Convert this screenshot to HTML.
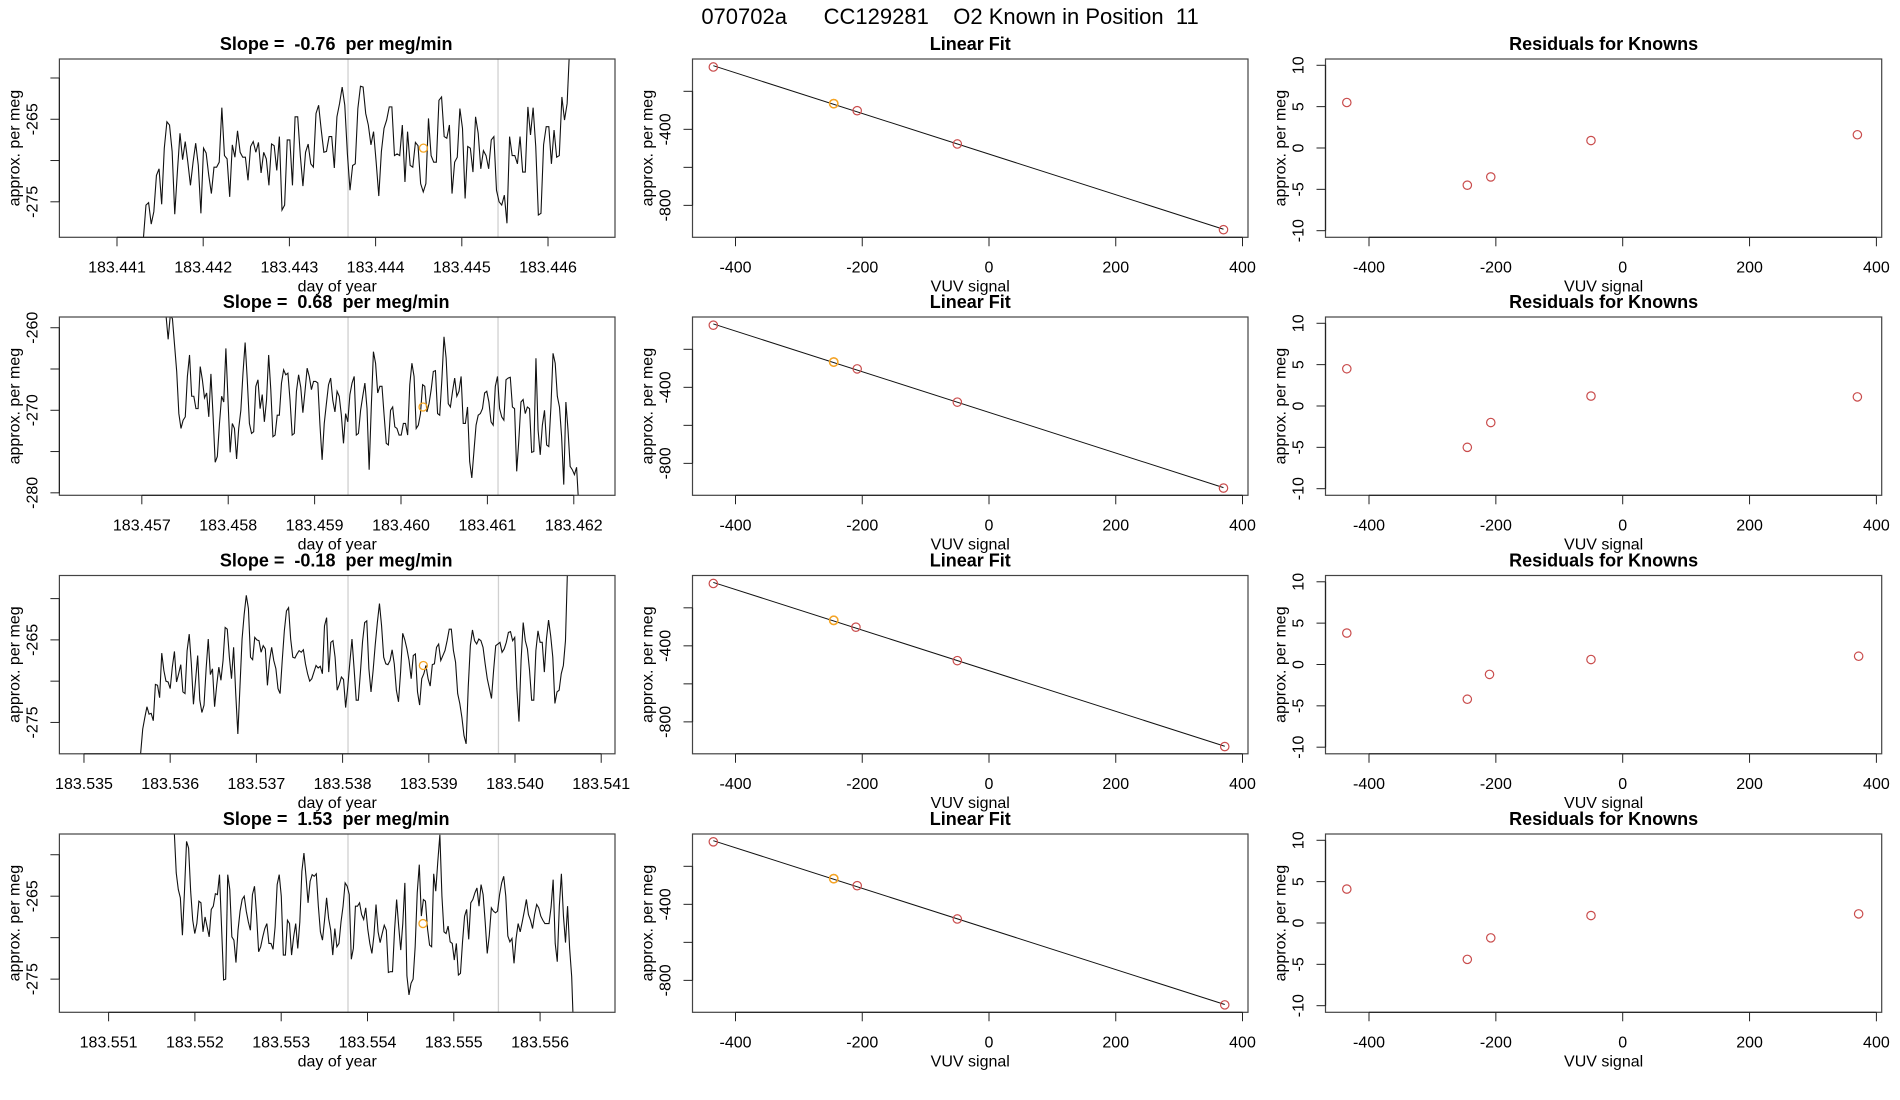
<!DOCTYPE html>
<html><head><meta charset="utf-8">
<style>
html,body{margin:0;padding:0;background:#fff;}
svg{display:block;font-family:"Liberation Sans",Arial,sans-serif;}
text{white-space:pre;}
</style></head>
<body>
<svg id="chart" width="1900" height="1100" viewBox="0 0 1900 1100" xmlns="http://www.w3.org/2000/svg">
<rect width="1900" height="1100" fill="#fff"/>
<text x="950" y="24" font-size="22" text-anchor="middle">070702a      CC129281    O2 Known in Position  11</text>
</svg>
<script>
// ---------- data ----------
const slopeLabels = ["-0.76", "0.68", "-0.18", "1.53"];
const tStart = [183.441306, 183.45728, 183.535657, 183.55176];
const tEnd = [183.446252, 183.462057, 183.54061, 183.55639];
const xLims = [[183.440332,183.446777],[183.456046,183.462477],[183.534715,183.54116],[183.55043,183.556868]];
const yLims = [[-279.3,-257.7],[-280.3,-258.7],[-278.8,-257.2],[-279,-257.5]];
const xTicks = [
 ["183.441","183.442","183.443","183.444","183.445","183.446"],
 ["183.457","183.458","183.459","183.460","183.461","183.462"],
 ["183.535","183.536","183.537","183.538","183.539","183.540","183.541"],
 ["183.551","183.552","183.553","183.554","183.555","183.556"]];
const yTicksLeft = [[-260,-265,-270,-275],[-260,-265,-270,-275,-280],[-260,-265,-270,-275],[-260,-265,-270,-275]];
const yTickLabelsLeft = [["","-265","","-275"],["-260","","-270","","-280"],["","-265","","-275"],["","-265","","-275"]];
const vLines = [[183.44368,183.44542],[183.459387,183.461123],[183.538063,183.539808],[183.553774,183.555517]];
const markerT = [183.444555, 183.460255, 183.538937, 183.554643];
const markerV = [-268.5, -269.6, -268.1, -268.3];

const series1 = [-279.5,-275.4,-275.1,-277.7,-276.2,-271.8,-271.0,-275.3,-268.5,-265.3,-265.7,-268.9,-276.5,-271.4,-266.7,-269.9,-267.7,-270.2,-273.0,-270.2,-267.9,-270.6,-276.4,-268.5,-269.1,-271.8,-274.0,-270.8,-270.8,-270.2,-263.6,-269.4,-269.8,-274.4,-268.1,-269.6,-266.4,-269.0,-269.6,-269.6,-272.4,-268.3,-267.7,-269.0,-267.8,-271.5,-269.0,-269.8,-273.0,-268.0,-268.2,-271.2,-267.1,-276.0,-275.4,-267.5,-267.5,-273.0,-264.7,-264.7,-269.4,-273.1,-269.0,-268.0,-270.4,-270.8,-264.3,-263.3,-266.3,-269.0,-268.9,-267.1,-267.1,-270.9,-264.7,-263.1,-261.1,-263.3,-269.2,-273.6,-270.6,-270.4,-263.7,-261.0,-261.1,-264.3,-265.7,-268.1,-266.5,-270.2,-274.3,-268.9,-266.1,-265.1,-263.5,-263.5,-269.4,-269.2,-269.4,-265.7,-272.6,-266.5,-270.6,-270.8,-267.8,-268.2,-272.8,-273.8,-272.8,-264.9,-269.4,-270.2,-270.2,-262.7,-262.3,-267.1,-267.3,-265.7,-274.0,-270.2,-269.6,-263.7,-266.1,-274.6,-268.3,-268.5,-271.4,-264.7,-266.7,-271.0,-268.8,-269.4,-271.0,-267.5,-267.1,-273.6,-275.0,-275.4,-274.2,-277.6,-267.1,-269.4,-269.4,-270.4,-267.1,-271.4,-271.4,-263.5,-266.9,-263.6,-268.3,-276.6,-276.4,-268.1,-265.9,-265.9,-270.4,-266.3,-269.6,-269.4,-262.3,-265.1,-263.1,-256.0];
const series2 = [-258.5,-261.4,-258.5,-258.9,-262.1,-265.3,-270.4,-272.2,-271.2,-270.8,-265.9,-263.3,-268.3,-268.3,-269.8,-269.8,-264.7,-266.3,-268.5,-267.9,-270.8,-265.6,-270.6,-276.3,-275.6,-271.6,-268.3,-269.0,-262.5,-268.8,-275.1,-271.6,-272.2,-275.9,-272.2,-270.0,-265.5,-261.8,-266.3,-271.6,-272.8,-272.6,-267.1,-266.3,-269.8,-268.1,-271.4,-268.8,-263.3,-267.5,-273.2,-273.0,-270.6,-270.6,-266.7,-265.1,-265.7,-265.5,-268.8,-273.0,-272.8,-267.7,-265.7,-267.2,-270.3,-267.7,-264.9,-265.9,-267.5,-266.5,-266.5,-266.7,-271.8,-276.0,-271.6,-269.2,-266.9,-266.1,-268.8,-270.2,-267.7,-268.3,-270.6,-274.0,-270.4,-271.4,-268.1,-266.7,-265.9,-273.0,-272.8,-270.0,-268.3,-266.7,-269.8,-277.2,-269.6,-262.9,-264.3,-267.9,-267.1,-267.1,-270.6,-274.0,-274.2,-270.0,-269.6,-272.0,-272.2,-273.0,-273.0,-271.6,-271.6,-273.0,-266.9,-264.3,-265.9,-272.2,-271.8,-270.4,-266.9,-267.1,-270.2,-269.2,-267.5,-265.3,-265.2,-270.4,-270.6,-266.3,-261.1,-263.7,-269.2,-269.6,-267.7,-266.1,-268.3,-267.7,-265.9,-271.6,-271.6,-269.6,-276.2,-278.2,-275.0,-271.8,-270.6,-270.4,-269.8,-267.9,-267.7,-269.0,-271.4,-271.8,-267.1,-265.9,-269.8,-270.8,-271.2,-266.3,-266.1,-266.0,-269.6,-269.8,-277.4,-273.6,-269.0,-268.7,-270.4,-269.6,-269.8,-275.1,-275.0,-263.7,-272.4,-275.4,-271.8,-270.0,-274.2,-274.4,-269.6,-263.1,-264.3,-268.3,-269.6,-273.2,-279.0,-269.0,-272.4,-276.8,-277.2,-277.8,-276.9,-281.5];
const series3 = [-278.8,-275.8,-274.4,-273.1,-274.0,-273.9,-274.8,-270.4,-270.5,-272.0,-266.6,-268.7,-270.0,-270.1,-270.9,-268.3,-266.4,-270.1,-269.1,-268.0,-271.3,-271.5,-266.3,-264.3,-267.9,-272.8,-269.9,-266.9,-272.3,-273.8,-272.9,-268.5,-264.9,-269.2,-268.5,-273.1,-270.5,-268.3,-269.9,-267.5,-263.5,-263.7,-267.1,-269.7,-265.9,-271.5,-276.4,-270.7,-264.9,-261.9,-259.6,-261.2,-267.1,-267.4,-264.7,-265.0,-265.1,-266.5,-265.7,-266.1,-270.5,-267.5,-265.9,-267.5,-268.5,-270.9,-271.5,-267.5,-263.9,-261.5,-261.1,-264.9,-267.1,-267.2,-266.7,-266.3,-266.5,-266.2,-267.9,-269.1,-270.0,-269.7,-268.9,-268.1,-268.4,-268.2,-269.1,-263.3,-262.3,-268.9,-265.3,-265.1,-267.1,-271.1,-270.4,-269.5,-269.8,-273.2,-270.7,-267.7,-264.9,-268.5,-272.3,-272.3,-268.9,-265.2,-262.9,-262.7,-268.5,-271.3,-268.7,-265.6,-262.9,-260.6,-263.3,-267.1,-267.9,-268.0,-267.5,-266.2,-267.9,-271.1,-272.5,-268.9,-264.2,-265.0,-266.1,-267.5,-269.7,-266.9,-266.7,-271.3,-272.9,-269.7,-269.1,-268.1,-269.7,-270.6,-268.0,-267.9,-265.9,-265.5,-267.5,-266.9,-266.3,-265.1,-263.7,-263.7,-266.3,-267.7,-271.5,-272.7,-274.4,-276.6,-277.6,-270.7,-265.7,-263.8,-265.1,-265.5,-264.9,-265.1,-265.9,-267.9,-269.7,-270.9,-272.1,-268.7,-265.7,-265.5,-265.3,-266.5,-266.1,-265.3,-264.1,-264.0,-265.1,-264.7,-270.9,-274.9,-267.5,-262.9,-265.1,-266.1,-268.7,-272.3,-272.3,-266.3,-263.9,-265.3,-265.3,-268.9,-264.9,-262.6,-264.5,-267.1,-272.7,-271.3,-271.1,-269.1,-268.1,-265.1,-256.0];
const series4 = [-257.0,-262.2,-264.2,-265.2,-269.7,-264.4,-258.4,-259.2,-264.4,-267.9,-269.5,-268.3,-265.6,-265.8,-269.3,-267.5,-268.7,-269.9,-266.6,-266.2,-264.7,-264.8,-262.4,-268.7,-275.1,-275.0,-262.4,-264.2,-269.9,-270.3,-273.0,-269.1,-266.8,-265.4,-265.0,-266.8,-268.1,-269.1,-264.8,-263.8,-267.2,-271.7,-271.1,-269.9,-268.9,-268.3,-270.7,-270.7,-271.4,-268.7,-263.6,-262.4,-265.0,-272.1,-272.1,-267.9,-268.3,-272.1,-269.9,-268.3,-271.3,-268.1,-262.0,-259.8,-262.6,-265.8,-263.2,-262.4,-262.6,-262.3,-266.2,-269.3,-270.3,-267.9,-265.2,-267.7,-269.1,-272.1,-268.9,-271.1,-270.7,-268.1,-266.2,-263.4,-263.8,-264.8,-272.6,-271.3,-266.2,-266.2,-265.8,-267.2,-267.8,-266.4,-269.0,-270.7,-271.9,-269.7,-266.0,-269.3,-270.6,-269.5,-268.5,-269.1,-274.2,-274.1,-274.1,-269.1,-265.4,-268.6,-271.5,-268.3,-263.4,-274.6,-276.9,-275.5,-275.0,-271.1,-264.6,-261.2,-267.4,-265.4,-265.6,-268.9,-270.9,-271.1,-262.3,-264.4,-260.8,-257.6,-265.0,-269.3,-269.5,-268.6,-270.5,-270.7,-272.7,-270.7,-274.5,-274.3,-270.5,-267.4,-266.6,-270.2,-265.8,-265.4,-264.6,-264.0,-266.2,-263.6,-264.8,-268.1,-271.9,-269.7,-266.4,-266.8,-267.0,-266.8,-264.8,-263.4,-262.6,-265.0,-269.8,-270.5,-270.1,-273.1,-270.1,-268.3,-269.3,-268.1,-266.8,-265.4,-267.2,-267.9,-268.9,-267.2,-266.0,-266.4,-267.4,-267.9,-268.3,-268.3,-268.3,-266.3,-263.0,-270.7,-272.9,-266.2,-262.3,-267.4,-270.6,-266.2,-271.3,-274.7,-282.0];
const seriesAll = [series1, series2, series3, series4];

const fitX = [[-435,-245,-208,-50,370],[-435,-245,-208,-50,370],[-435,-245,-210,-50,372],[-435,-245,-208,-50,372]];
const fitY = [[-72,-265,-302,-477,-928],[-73,-267,-303,-478,-930],[-72,-266,-302,-478,-930],[-71,-265,-302,-477,-929]];
const fitHighlight = [1,1,1,1];
const residuals = [[5.5,-4.5,-3.5,0.9,1.6],[4.5,-5.0,-2.0,1.2,1.1],[3.8,-4.2,-1.2,0.6,1.0],[4.1,-4.4,-1.8,0.9,1.1]];
const vuvTicks = [-400,-200,0,200,400];
const fitYTicks = [-200,-400,-600,-800];
const fitYTickLabels = ["","-400","","-800"];
const resTicks = [10,5,0,-5,-10];

// ---------- layout ----------
const NS = "http://www.w3.org/2000/svg";
const svg = document.getElementById("chart");
const rowTop = [59, 317, 575.5, 834];
const PH = 178.3;
const cols = [{l:59.4, r:615},{l:692.5, r:1248},{l:1325.5, r:1881.7}];
const red = "#c94c4c", orange = "#f5a623";

function mk(tag, attrs, parent){
  const e = document.createElementNS(NS, tag);
  for (const k in attrs) e.setAttribute(k, attrs[k]);
  (parent||svg).appendChild(e);
  return e;
}
function lin(d0,d1,p0,p1){ return v => p0 + (v-d0)/(d1-d0)*(p1-p0); }

function frame(g, c, top, name){
  const r = mk("rect", {x:c.l, y:top, width:c.r-c.l, height:PH, fill:"none", stroke:"#444", "stroke-width":1.2}, g);
  
  
}
function title(g, x, y, txt, name){
  const t = mk("text", {x:x, y:y, "font-size":18, "font-weight":"bold", "text-anchor":"middle"}, g);
  t.textContent = txt;
  
  
}
function xAxis(g, sx, vals, labels, bottom, axisLabel, name){
  const xs = vals.map(sx);
  const ln = mk("line", {x1:xs[0], x2:xs[xs.length-1], y1:bottom, y2:bottom, stroke:"#222", "stroke-width":1.2}, g);
  
  
  xs.forEach((x,i)=>{
    const tk = mk("line", {x1:x, x2:x, y1:bottom, y2:bottom+9, stroke:"#222", "stroke-width":1}, g);
    
    
    const t = mk("text", {x:x, y:bottom+35, "font-size":16, "text-anchor":"middle"}, g);
    t.textContent = labels[i];
    
    
  });
  const t = mk("text", {x:(g._cx), y:bottom+54, "font-size":16, "text-anchor":"middle"}, g);
  t.textContent = axisLabel;
  
  
}
function yAxis(g, sy, vals, labels, left, top, name){
  const ys = vals.map(sy);
  const ln = mk("line", {x1:left, x2:left, y1:Math.min(...ys), y2:Math.max(...ys), stroke:"#222", "stroke-width":1.2}, g);
  
  
  ys.forEach((y,i)=>{
    const tk = mk("line", {x1:left-9, x2:left, y1:y, y2:y, stroke:"#222", "stroke-width":1}, g);
    
    
    if (labels[i] !== ""){
      const lx = left-22;
      const t = mk("text", {x:lx, y:y, "font-size":16, "text-anchor":"middle", transform:"rotate(-90 "+lx+" "+y+")"}, g);
      t.textContent = labels[i];
      
      
    }
  });
  const lx = left-40, ly = top+PH/2;
  const t = mk("text", {x:lx, y:ly, "font-size":16, "text-anchor":"middle", transform:"rotate(-90 "+lx+" "+ly+")"}, g);
  t.textContent = "approx. per meg";
  
  
}

for (let r=0; r<4; r++){
  const top = rowTop[r], bottom = top+PH;
  // ---- left: time series ----
  {
    const c = cols[0];
    const g = mk("g", {});
    
    
    g._cx = (c.l+c.r)/2;
    const sx = lin(xLims[r][0], xLims[r][1], c.l, c.r);
    const sy = lin(yLims[r][0], yLims[r][1], bottom, top);
    const clipId = "clipL"+r;
    const cp = mk("clipPath", {id:clipId}, g);
    mk("rect", {x:c.l, y:top, width:c.r-c.l, height:PH}, cp);
    vLines[r].forEach(t=>{
      const v = mk("line", {x1:sx(t), x2:sx(t), y1:top, y2:bottom, stroke:"#d0d0d0", "stroke-width":1.3}, g);
      
      
    });
    const s = seriesAll[r];
    const n = s.length;
    const dt = (tEnd[r]-tStart[r])/(n-1);
    let d = "";
    s.forEach((v,i)=>{ d += (i?"L":"M") + sx(tStart[r]+i*dt).toFixed(2) + " " + sy(v).toFixed(2); });
    const p = mk("path", {d:d, fill:"none", stroke:"#111", "stroke-width":1.1, "clip-path":"url(#"+clipId+")"}, g);
    
    
    const m = mk("circle", {cx:sx(markerT[r]), cy:sy(markerV[r]), r:4, fill:"none", stroke:orange, "stroke-width":1.3}, g);
    
    
    frame(g, c, top, 'time-series');
    title(g, (c.l+c.r)/2 - 1, top-9, "Slope =  " + slopeLabels[r] + "  per meg/min", 'slope-title');
    const tv = xTicks[r].map(Number);
    xAxis(g, sx, tv, xTicks[r], bottom, "day of year", 'time-series');
    yAxis(g, sy, yTicksLeft[r], yTickLabelsLeft[r], c.l, top, 'time-series');
  }
  // ---- middle: linear fit ----
  {
    const c = cols[1];
    const g = mk("g", {});
    
    
    g._cx = (c.l+c.r)/2;
    const sx = lin(-400, 400, 735.5, 1242.5);
    const sy = lin(-968, -30, bottom, top);
    const X = fitX[r], Y = fitY[r];
    const n = X.length;
    const mx = X.reduce((a,b)=>a+b,0)/n, my = Y.reduce((a,b)=>a+b,0)/n;
    let sxy=0, sxx=0;
    X.forEach((x,i)=>{ sxy += (x-mx)*(Y[i]-my); sxx += (x-mx)*(x-mx); });
    const b = sxy/sxx, a = my - b*mx;
    const x0 = Math.min(...X), x1 = Math.max(...X);
    const fl = mk("line", {x1:sx(x0), y1:sy(a+b*x0), x2:sx(x1), y2:sy(a+b*x1), stroke:"#111", "stroke-width":1}, g);
    
    
    X.forEach((x,i)=>{
      const pt = mk("circle", {cx:sx(x), cy:sy(Y[i]), r:4.2, fill:"none", stroke:red, "stroke-width":1.2}, g);
      
      
    });
    const h = fitHighlight[r];
    const hp = mk("circle", {cx:sx(X[h]), cy:sy(Y[h]), r:4.2, fill:"none", stroke:orange, "stroke-width":1.5}, g);
    
    
    frame(g, c, top, 'linear-fit');
    title(g, (c.l+c.r)/2, top-9, "Linear Fit", 'linear-fit-title');
    xAxis(g, sx, vuvTicks, vuvTicks.map(String), bottom, "VUV signal", 'linear-fit');
    yAxis(g, sy, fitYTicks, fitYTickLabels, c.l, top, 'linear-fit');
  }
  // ---- right: residuals ----
  {
    const c = cols[2];
    const g = mk("g", {});
    
    
    g._cx = (c.l+c.r)/2;
    const sx = lin(-400, 400, 1369, 1876.4);
    const sy = lin(-10.8, 10.76, bottom, top);
    fitX[r].forEach((x,i)=>{
      const pt = mk("circle", {cx:sx(x), cy:sy(residuals[r][i]), r:4.2, fill:"none", stroke:red, "stroke-width":1.2}, g);
      
      
    });
    frame(g, c, top, 'residuals');
    title(g, (c.l+c.r)/2, top-9, "Residuals for Knowns", 'residuals-title');
    xAxis(g, sx, vuvTicks, vuvTicks.map(String), bottom, "VUV signal", 'residuals');
    yAxis(g, sy, resTicks, resTicks.map(String), c.l, top, 'residuals');
  }
}
</script>
</body></html>
